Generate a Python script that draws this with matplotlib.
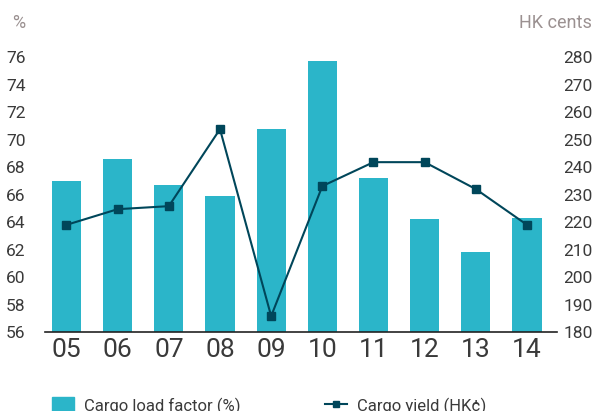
import numpy as np
import matplotlib.pyplot as plt
from matplotlib.lines import Line2D
from matplotlib.patches import Patch

plt.rcParams['font.family'] = ['Roboto', 'DejaVu Sans']

years = ['05', '06', '07', '08', '09', '10', '11', '12', '13', '14']
load_factor = [67.0, 68.6, 66.7, 65.9, 70.8, 75.7, 67.2, 64.2, 61.8, 64.3]
cargo_yield = [219, 224.7, 225.8, 253.8, 185.8, 233.1, 241.8, 241.8, 232, 219]

bar_color = '#2bb5c9'
line_color = '#00465a'
text_color = '#3a3a3a'
title_color = '#9b9191'

fig = plt.figure(figsize=(5.95, 4.11), dpi=100)
ax = fig.add_axes([0.0756, 0.192, 0.86, 0.669])
x = np.arange(len(years))

ax.bar(x, load_factor, width=0.57, color=bar_color, zorder=1)
ax.set_ylim(56, 76)
ax.set_yticks(np.arange(56, 77, 2))
ax.set_xlim(-0.42, len(years) - 0.42)
ax.set_xticks(x)
ax.set_xticklabels(years)

ax2 = ax.twinx()
ax2.plot(x, cargo_yield, color=line_color, lw=1.5, marker='s', ms=6, zorder=3)
ax2.set_ylim(180, 280)
ax2.set_yticks(np.arange(180, 281, 10))

for a in (ax, ax2):
    for s in a.spines.values():
        s.set_visible(False)
ax.spines['bottom'].set_visible(True)
ax.spines['bottom'].set_color('#222222')
ax.spines['bottom'].set_linewidth(1.2)

ax.tick_params(axis='y', length=0, labelsize=12.5, labelcolor=text_color, pad=14)
ax2.tick_params(axis='y', length=0, labelsize=12.5, labelcolor=text_color, pad=5)
ax.tick_params(axis='x', length=0, labelsize=19, labelcolor=text_color, pad=4)

fig.text(0.02, 0.945, '%', fontsize=13, color=title_color, ha='left', va='center')
fig.text(0.995, 0.945, 'HK cents', fontsize=13, color=title_color, ha='right', va='center')

handles = [Patch(color=bar_color),
           Line2D([], [], color=line_color, marker='s', ms=5, lw=1.5)]
fig.legend(handles, ['Cargo load factor (%)', 'Cargo yield (HK¢)'],
           loc='center left', bbox_to_anchor=(0.062, 0.012), ncol=2,
           frameon=False, fontsize=12, labelcolor=text_color,
           handlelength=1.3, handleheight=1.3, columnspacing=5.1, handletextpad=0.6)

fig.savefig('out.png', dpi=100)
